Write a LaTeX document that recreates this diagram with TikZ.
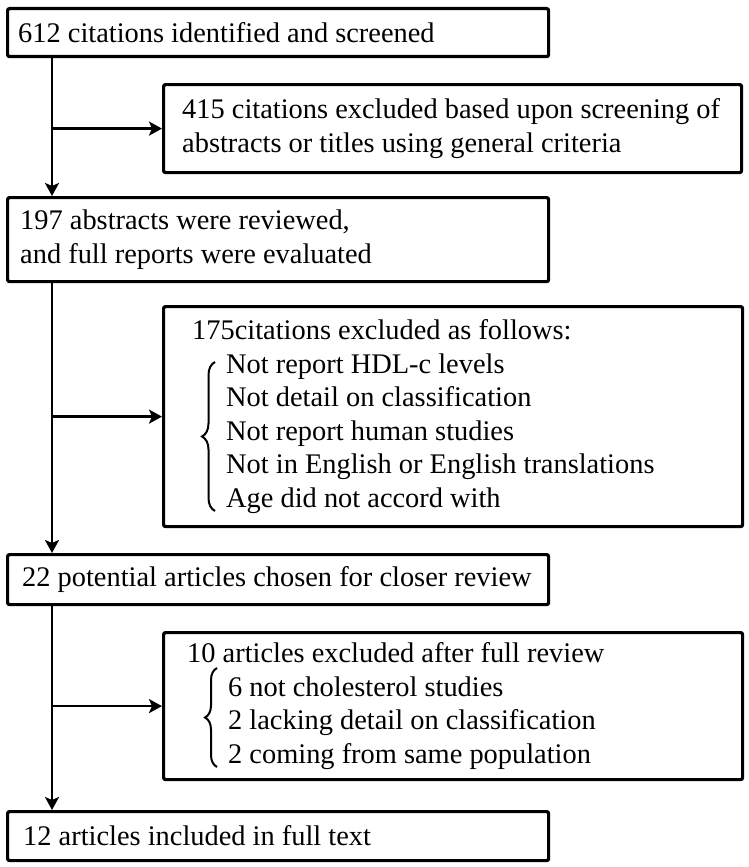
\documentclass[tikz,border=0pt]{standalone}
\usepackage{fontspec}
\setmainfont{Liberation Serif}
\usetikzlibrary{arrows.meta,decorations.pathreplacing}
\tikzset{
  box/.style={draw, line width=3.2pt, rounded corners=2pt, anchor=north west, inner sep=0pt},
  txt/.style={anchor=west, align=left, inner sep=0pt, font=\fontsize{28.4}{33.5}\selectfont},
  arr/.style={line width=2.4pt, -{Stealth[length=13pt,width=14pt,inset=3pt]}},
  brc/.style={line width=2pt, decorate, decoration={brace, amplitude=#1}},
}
\begin{document}
\begin{tikzpicture}[x=1pt,y=-1pt]
\useasboundingbox (0,0) rectangle (749,867);
% boxes
\node[box, minimum width=541pt, minimum height=48pt] (b1) at (6,7) {};
\node[box, minimum width=578pt, minimum height=88pt] (b2) at (162,83) {};
\node[box, minimum width=541pt, minimum height=84pt] (b3) at (6,196) {};
\node[box, minimum width=579pt, minimum height=220pt] (b4) at (162,305) {};
\node[box, minimum width=541pt, minimum height=50pt] (b5) at (6,553) {};
\node[box, minimum width=579pt, minimum height=147pt] (b6) at (162,631) {};
\node[box, minimum width=541pt, minimum height=49pt] (b7) at (6,810) {};
% texts
\node[txt] (t1) at ([xshift=12pt]b1.west) {612 citations identified and screened};
\node[txt] (t2) at ([xshift=20pt]b2.west) {415 citations excluded based upon screening of\\abstracts or titles using general criteria};
\node[txt] (t3) at ([xshift=14pt]b3.west) {197 abstracts were reviewed,\\and full reports were evaluated};
\node[txt] (t4) at ([xshift=30pt]b4.west) {175citations excluded as follows:\\
\hspace*{34pt}Not report HDL-c levels\\
\hspace*{34pt}Not detail on classification\\
\hspace*{34pt}Not report human studies\\
\hspace*{34pt}Not in English or English translations\\
\hspace*{34pt}Age did not accord with};
\node[txt] (t5) at ([xshift=16pt]b5.west) {22 potential articles chosen for closer review};
\node[txt] (t6) at ([xshift=25pt]b6.west) {10 articles excluded after full review\\
\hspace*{41pt}6 not cholesterol studies\\
\hspace*{41pt}2 lacking detail on classification\\
\hspace*{41pt}2 coming from same population};
\node[txt] (t7) at ([xshift=17pt]b7.west) {12 articles included in full text};
% braces
\draw[brc=13pt] (215,511) -- (215,362);
\draw[brc=12pt] (217,767) -- (217,668);
% connectors
\coordinate (s) at (52,0);
\draw[arr] (b1.south -| s) -- (b3.north -| s);
\draw[arr] (b2.west -| s) -- (b2.west);
\draw[arr] (b3.south -| s) -- (b5.north -| s);
\draw[arr] (b4.west -| s) -- (b4.west);
\draw[arr] (b5.south -| s) -- (b7.north -| s);
\draw[arr] (b6.west -| s) -- (b6.west);
\end{tikzpicture}
\end{document}
